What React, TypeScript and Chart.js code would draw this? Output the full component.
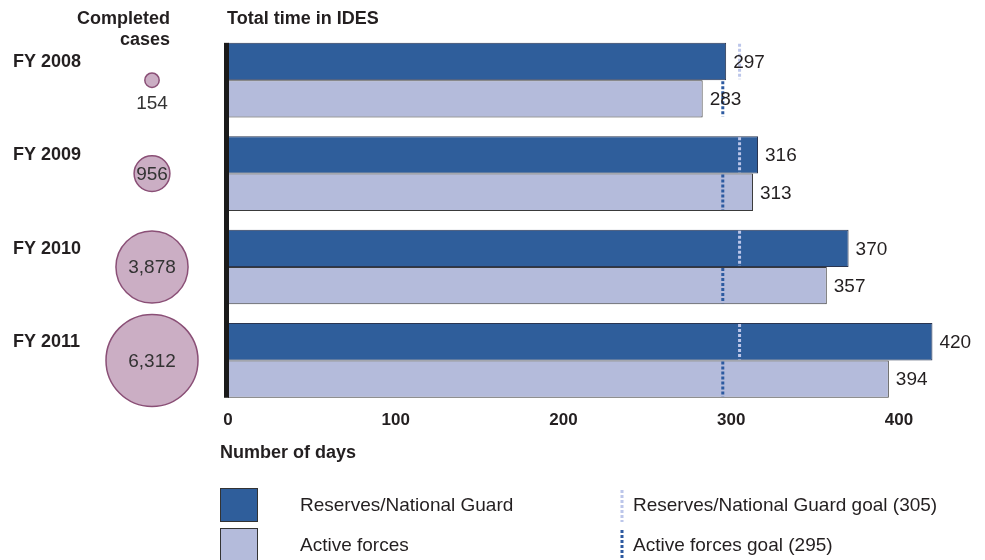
import React, { useEffect, useRef } from 'react';
import { Chart, registerables } from 'chart.js';

Chart.register(...registerables);

const categories = ['FY 2008', 'FY 2009', 'FY 2010', 'FY 2011'];
const reservesDays = [297, 316, 370, 420];
const activeDays = [283, 313, 357, 394];
const completedCases = [154, 956, 3878, 6312];
const completedLabels = ['154', '956', '3,878', '6,312'];
const reservesGoal = 305;
const activeGoal = 295;
const xTickValues = [0, 100, 200, 300, 400];

const FONT = '"Liberation Sans", Arial, sans-serif';
const TEXT = '#231f20';
const RES_COLOR = '#2f5e9b';
const ACT_COLOR = '#b4bbdb';
const RES_GOAL_COLOR = '#bcc6ea';
const ACT_GOAL_COLOR = '#2d5aa0';
const BUBBLE_FILL = '#cbaec4';
const BUBBLE_BORDER = '#8a4f76';

const overlay = {
  id: 'overlay',
  afterDatasetsDraw(chart: any) {
    const ctx = chart.ctx;
    const xs = chart.scales.x;
    const resMeta = chart.getDatasetMeta(0);
    const actMeta = chart.getDatasetMeta(1);
    ctx.save();
    const drawGoal = (meta: any, value: number, color: string) => {
      const gx = xs.getPixelForValue(value);
      meta.data.forEach((bar: any) => {
        const h = bar.height;
        ctx.beginPath();
        ctx.strokeStyle = color;
        ctx.lineWidth = 3;
        ctx.setLineDash([3, 2]);
        ctx.moveTo(gx, bar.y - h / 2 + 1);
        ctx.lineTo(gx, bar.y + h / 2 - 1);
        ctx.stroke();
      });
    };
    drawGoal(resMeta, reservesGoal, RES_GOAL_COLOR);
    drawGoal(actMeta, activeGoal, ACT_GOAL_COLOR);
    ctx.setLineDash([]);
    ctx.font = `19px ${FONT}`;
    ctx.fillStyle = TEXT;
    ctx.textAlign = 'left';
    ctx.textBaseline = 'middle';
    [resMeta, actMeta].forEach((meta: any, di: number) => {
      const vals = di === 0 ? reservesDays : activeDays;
      meta.data.forEach((bar: any, i: number) => {
        ctx.fillText(String(vals[i]), bar.x + 7, bar.y + 1);
      });
    });
    const x0 = xs.getPixelForValue(0);
    const top = resMeta.data[0].y - resMeta.data[0].height / 2;
    const last = actMeta.data[actMeta.data.length - 1];
    const bottom = last.y + last.height / 2;
    ctx.fillStyle = '#1a1a1a';
    ctx.fillRect(x0 - 4, top, 5, bottom - top);
    ctx.restore();
  },
  afterDraw(chart: any) {
    const ctx = chart.ctx;
    const ys = chart.scales.y;
    const resMeta = chart.getDatasetMeta(0);
    ctx.save();
    ctx.fillStyle = TEXT;
    ctx.textBaseline = 'middle';
    ctx.font = `bold 18px ${FONT}`;
    ctx.textAlign = 'right';
    ctx.fillText('Completed', 170, 19);
    ctx.fillText('cases', 170, 40);
    ctx.textAlign = 'left';
    ctx.fillText('Total time in IDES', 227, 19);
    categories.forEach((c, i) => {
      const bar = resMeta.data[i];
      ctx.fillText(c, 13, bar.y - bar.height / 2 + 19);
    });
    ctx.fillText('Number of days', 220, 453);
    const maxV = Math.max(...completedCases);
    const maxR = 46;
    completedCases.forEach((v, i) => {
      const cy = ys.getPixelForValue(i);
      const cx = 152;
      const r = maxR * Math.sqrt(v / maxV);
      ctx.beginPath();
      ctx.arc(cx, cy, r, 0, Math.PI * 2);
      ctx.fillStyle = BUBBLE_FILL;
      ctx.fill();
      ctx.lineWidth = 1.5;
      ctx.strokeStyle = BUBBLE_BORDER;
      ctx.stroke();
      ctx.fillStyle = '#333';
      ctx.font = `19px ${FONT}`;
      ctx.textAlign = 'center';
      if (r < 14) ctx.fillText(completedLabels[i], cx, cy + r + 16);
      else ctx.fillText(completedLabels[i], cx, cy + 1);
    });
    ctx.textAlign = 'left';
    ctx.lineWidth = 1;
    ctx.fillStyle = RES_COLOR;
    ctx.fillRect(220, 488, 37, 33);
    ctx.strokeStyle = '#333';
    ctx.strokeRect(220.5, 488.5, 37, 33);
    ctx.fillStyle = ACT_COLOR;
    ctx.fillRect(220, 528, 37, 33);
    ctx.strokeRect(220.5, 528.5, 37, 33);
    ctx.fillStyle = TEXT;
    ctx.font = `19px ${FONT}`;
    ctx.fillText('Reserves/National Guard', 300, 506);
    ctx.fillText('Active forces', 300, 546);
    ctx.fillText('Reserves/National Guard goal (305)', 633, 506);
    ctx.fillText('Active forces goal (295)', 633, 546);
    ctx.lineWidth = 3;
    ctx.setLineDash([3, 2]);
    ctx.strokeStyle = RES_GOAL_COLOR;
    ctx.beginPath();
    ctx.moveTo(622, 490);
    ctx.lineTo(622, 522);
    ctx.stroke();
    ctx.strokeStyle = ACT_GOAL_COLOR;
    ctx.beginPath();
    ctx.moveTo(622, 530);
    ctx.lineTo(622, 560);
    ctx.stroke();
    ctx.restore();
  },
};

export default function App() {
  const ref = useRef<HTMLCanvasElement | null>(null);
  useEffect(() => {
    if (!ref.current) return;
    Chart.defaults.font.family = FONT;
    const chart = new Chart(ref.current, {
      type: 'bar',
      data: {
        labels: categories,
        datasets: [
          {
            label: 'Reserves/National Guard',
            data: reservesDays,
            backgroundColor: RES_COLOR,
            borderColor: '#2a3550',
            borderWidth: 1,
            borderSkipped: false,
            categoryPercentage: 0.8,
            barPercentage: 1.0,
          },
          {
            label: 'Active forces',
            data: activeDays,
            backgroundColor: ACT_COLOR,
            borderColor: '#3a3a3a',
            borderWidth: 1,
            borderSkipped: false,
            categoryPercentage: 0.8,
            barPercentage: 1.0,
          },
        ],
      },
      options: {
        indexAxis: 'y',
        responsive: false,
        animation: false,
        layout: { padding: { left: 228, right: 19, top: 33.5, bottom: 126.5 } },
        plugins: { legend: { display: false }, tooltip: { enabled: false } },
        scales: {
          x: {
            min: 0,
            max: 440,
            afterBuildTicks: (scale: any) => {
              scale.ticks = xTickValues.map((v) => ({ value: v }));
            },
            grid: { display: false, drawTicks: false },
            border: { display: false },
            ticks: {
              padding: 3,
              color: TEXT,
              font: { size: 17, weight: 'bold', family: FONT },
            },
          },
          y: { display: false },
        },
      },
      plugins: [overlay],
    } as any);
    return () => chart.destroy();
  }, []);
  return (
    <div style={{ position: 'fixed', left: 0, top: 0, width: 985, height: 560, background: '#fff' }}>
      <canvas ref={ref} width={985} height={560} />
    </div>
  );
}
